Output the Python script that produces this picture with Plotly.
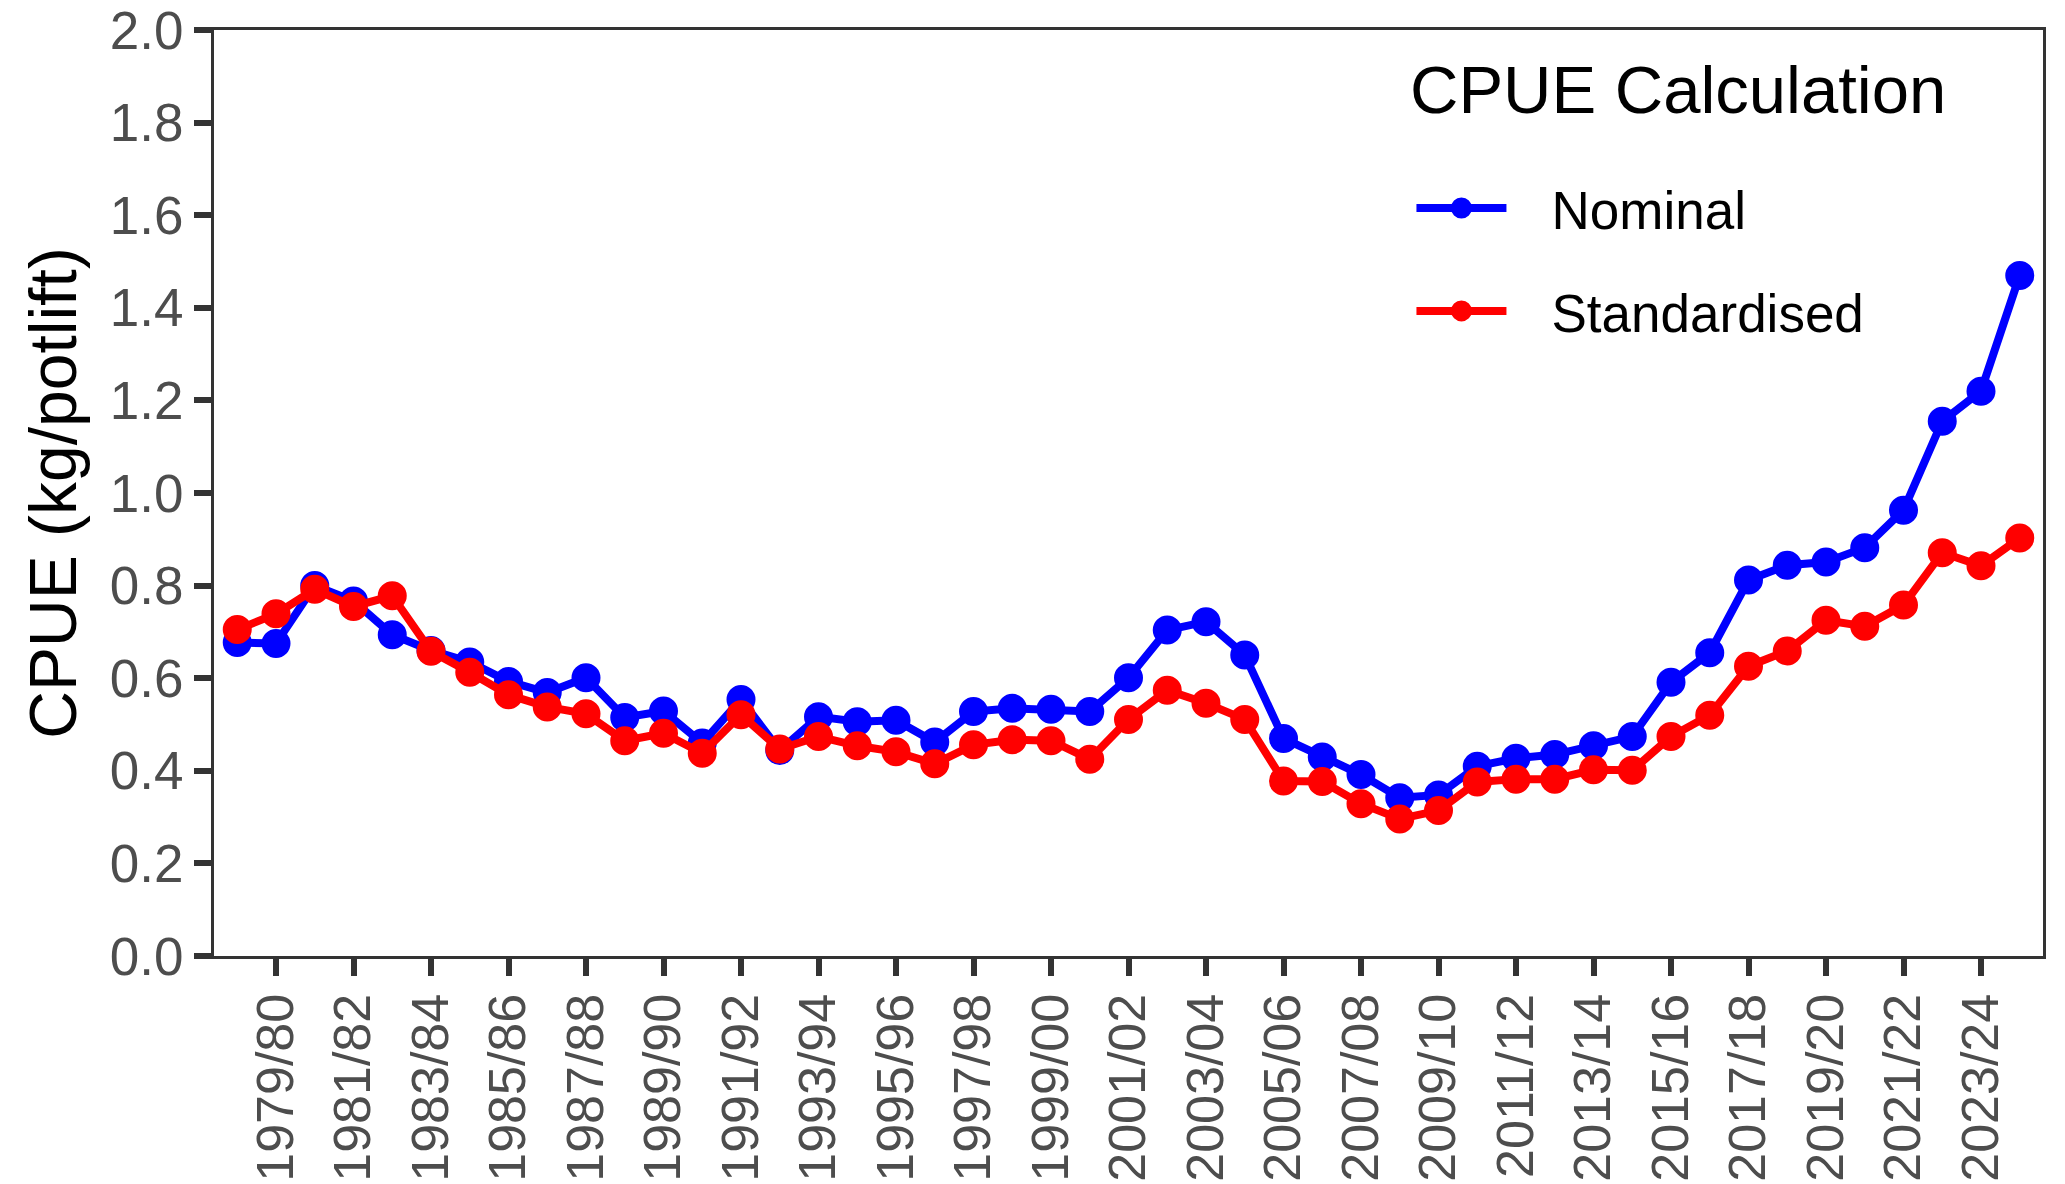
import plotly.graph_objects as go

seasons = [
    "1978/79", "1979/80", "1980/81", "1981/82", "1982/83", "1983/84", "1984/85", "1985/86",
    "1986/87", "1987/88", "1988/89", "1989/90", "1990/91", "1991/92", "1992/93", "1993/94",
    "1994/95", "1995/96", "1996/97", "1997/98", "1998/99", "1999/00", "2000/01", "2001/02",
    "2002/03", "2003/04", "2004/05", "2005/06", "2006/07", "2007/08", "2008/09", "2009/10",
    "2010/11", "2011/12", "2012/13", "2013/14", "2014/15", "2015/16", "2016/17", "2017/18",
    "2018/19", "2019/20", "2020/21", "2021/22", "2022/23", "2023/24", "2024/25",
]

nominal = [
    0.677, 0.675, 0.800, 0.767, 0.694, 0.660, 0.635, 0.593, 0.569, 0.601,
    0.515, 0.529, 0.460, 0.554, 0.444, 0.517, 0.506, 0.509, 0.462, 0.528,
    0.535, 0.533, 0.528, 0.601, 0.704, 0.722, 0.650, 0.470, 0.430, 0.392,
    0.342, 0.348, 0.410, 0.427, 0.435, 0.454, 0.474, 0.591, 0.655, 0.812,
    0.844, 0.851, 0.882, 0.963, 1.155, 1.220, 1.470,
]

standardised = [
    0.705, 0.739, 0.792, 0.755, 0.778, 0.658, 0.613, 0.564, 0.538, 0.523,
    0.465, 0.481, 0.438, 0.521, 0.447, 0.474, 0.454, 0.441, 0.415, 0.456,
    0.467, 0.465, 0.425, 0.511, 0.574, 0.546, 0.511, 0.378, 0.377, 0.329,
    0.296, 0.314, 0.376, 0.382, 0.382, 0.402, 0.401, 0.474, 0.520, 0.626,
    0.659, 0.725, 0.712, 0.758, 0.871, 0.843, 0.903,
]

series_names = ["Nominal", "Standardised"]
series_colors = ["#0000FF", "#FF0000"]
legend_title = "CPUE Calculation"
y_title = "CPUE (kg/potlift)"

x_ticklabels = seasons[1::2]
y_ticks = [0.0, 0.2, 0.4, 0.6, 0.8, 1.0, 1.2, 1.4, 1.6, 1.8, 2.0]

FONT = "Liberation Sans, Arial, sans-serif"
AXIS_COLOR = "#333333"
TICK_FONT_COLOR = "#4D4D4D"
PAD = "\u00a0\u00a0\u2009"

fig = go.Figure()
for name, vals, col, grp in zip(series_names, [nominal, standardised], series_colors, ["a", "b"]):
    fig.add_trace(go.Scatter(
        x=seasons, y=vals, mode="lines+markers", name=PAD + name,
        line=dict(color=col, width=8),
        marker=dict(color=col, size=24, line=dict(color=col, width=5)),
        legendgroup=grp,
    ))

fig.update_layout(
    template="none",
    width=2065, height=1184,
    margin=dict(l=214, r=22, t=30, b=228, autoexpand=False),
    paper_bgcolor="white", plot_bgcolor="white",
    font=dict(family=FONT, color="black"),
    showlegend=True,
    legend=dict(
        font=dict(size=53, color="black", family=FONT),
        x=0.6547, xanchor="left", y=0.852, yanchor="top",
        bgcolor="rgba(255,255,255,0)", borderwidth=0,
        itemwidth=90,
        tracegroupgap=31,
    ),
    annotations=[dict(
        text=legend_title, xref="paper", yref="paper",
        x=0.6527, y=0.9362, xanchor="left", yanchor="middle",
        showarrow=False, font=dict(size=67, color="black", family=FONT),
    )],
)

fig.update_xaxes(
    type="category", automargin=False,
    range=[-0.6, len(seasons) - 1 + 0.6],
    tickmode="array", tickvals=x_ticklabels, ticktext=x_ticklabels,
    tickangle=-90,
    tickfont=dict(size=52, color=TICK_FONT_COLOR, family=FONT),
    ticklabelstandoff=-3,
    ticks="outside", ticklen=17, tickwidth=5.5, tickcolor=AXIS_COLOR,
    showline=True, linecolor=AXIS_COLOR, linewidth=3, mirror=True,
    showgrid=False, zeroline=False,
)
fig.update_yaxes(
    automargin=False,
    range=[0, 2.0],
    tickmode="array", tickvals=y_ticks, ticktext=[f"{v:.1f}" for v in y_ticks],
    tickfont=dict(size=53, color=TICK_FONT_COLOR, family=FONT),
    ticklabeloverflow="allow",
    ticks="outside", ticklen=17, tickwidth=5.5, tickcolor=AXIS_COLOR,
    showline=True, linecolor=AXIS_COLOR, linewidth=3, mirror=True,
    showgrid=False, zeroline=False,
    title=dict(text=y_title, font=dict(size=66, color="black", family=FONT), standoff=12),
)

fig.write_html(
    "out.html",
    config={"displayModeBar": False},
    post_script="document.body.style.margin='0';document.body.style.overflow='hidden';",
)
